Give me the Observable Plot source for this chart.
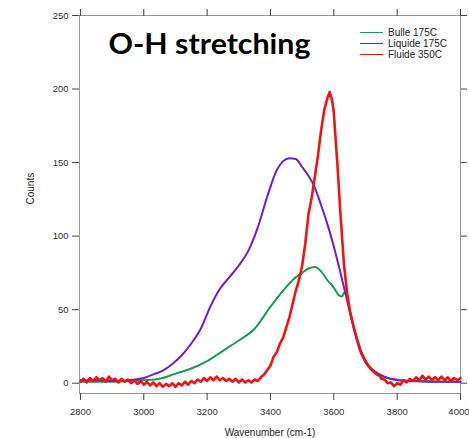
<!DOCTYPE html>
<html>
<head>
<meta charset="utf-8">
<script src="https://cdn.jsdelivr.net/npm/d3@7"></script>
<script src="https://cdn.jsdelivr.net/npm/@observablehq/plot@0.6"></script>
<style>
  body { margin: 0; background: #fff; }
  #wrap { position: relative; width: 469px; height: 438px; }
  #legend { position: absolute; left: 360px; top: 27px; font-family: "Liberation Sans", Arial, sans-serif; font-size: 10px; color: #222; }
  #legend .row { display: flex; align-items: center; height: 11.2px; }
  #legend .sw { width: 23px; height: 0; border-top: 1.5px solid; margin-right: 5px; }
</style>
</head>
<body>
<div id="wrap"></div>
<script>
const seriesNames = ["Bulle 175C", "Liquide 175C", "Fluide 350C"];
const seriesColors = ["#1e9a52", "#6e1fd2", "#ee1515"];
const xTicks = [2800, 3000, 3200, 3400, 3600, 3800, 4000];
const yTicks = [0, 50, 100, 150, 200, 250];
const titleText = "O-H stretching";
const xLabel = "Wavenumber (cm-1)";
const yLabel = "Counts";

// Bulle 175C (green)
const bulleX = [2800, 2900, 2950, 3000, 3050, 3100, 3150, 3200, 3250, 3300, 3350, 3400, 3440, 3480, 3500, 3520, 3540, 3560, 3580, 3600, 3615, 3625, 3635, 3645, 3655, 3670, 3690, 3710, 3740, 3780, 3850, 4000];
const bulleY = [1, 1, 1.5, 2, 3, 6.5, 10, 15, 22, 29, 37, 52, 63, 72, 75, 78, 79, 76, 70, 65, 60, 59, 62, 55, 45, 33, 20, 12, 6, 3, 1.5, 1];

// Liquide 175C (purple)
const liquideX = [2800, 2850, 2900, 2950, 3000, 3030, 3060, 3090, 3120, 3150, 3180, 3210, 3240, 3270, 3300, 3330, 3360, 3390, 3420, 3440, 3460, 3480, 3500, 3520, 3540, 3560, 3580, 3600, 3620, 3640, 3660, 3680, 3700, 3730, 3760, 3800, 3850, 3900, 3950, 4000];
const liquideY = [2, 2, 1.5, 2, 3.5, 6, 8.5, 13, 19, 27, 37, 52, 64, 72, 80, 90, 106, 127, 145, 151, 153, 152.5, 147, 141, 133, 121, 108, 93, 76, 58, 40, 24, 14, 8, 4.5, 2, 1.5, 1, 1, 1];

// Fluide 350C (red)
const fluideX = [2800, 2810, 2820, 2830, 2840, 2850, 2860, 2870, 2880, 2890, 2900, 2910, 2920, 2930, 2940, 2950, 2960, 2970, 2980, 2990,
  3000, 3010, 3020, 3030, 3040, 3050, 3060, 3070, 3080, 3090, 3100, 3110, 3120, 3130, 3140, 3150, 3160, 3170, 3180, 3190,
  3200, 3210, 3220, 3230, 3240, 3250, 3260, 3270, 3280, 3290, 3300, 3310, 3320, 3330, 3340, 3350, 3360, 3370, 3380, 3390,
  3400, 3410, 3420, 3430, 3440, 3450, 3460, 3470, 3480, 3490, 3500, 3510, 3520, 3530, 3540, 3550, 3560, 3570, 3580, 3587,
  3595, 3600, 3605, 3611, 3621, 3632, 3642, 3652, 3663, 3673, 3684, 3695, 3705, 3715, 3725, 3735, 3745, 3750, 3760, 3770,
  3780, 3790, 3800, 3810, 3820, 3830, 3840, 3850, 3860, 3870, 3880, 3890, 3900, 3910, 3920, 3930, 3940, 3950, 3960, 3970,
  3980, 3990, 4000];
const fluideY = [1, 3, 0.5, 3.5, 1.5, 4, 2, 3.5, 1, 4.5, 2, 3, 0.5, 3, 1, 2.5, 0, 2, -0.5, 1.5,
  -1, 1, -1.5, 0.5, -2, 0, -2.5, -0.5, -2, 0, -2.5, 0, -1.5, 1, -1, 1.5, 0, 2.5, 1, 3.5,
  1.5, 4, 2, 4.5, 2, 3.5, 1.5, 3, 1, 3, 0.5, 2.5, 0.5, 2, 0.5, 2.5, 1.5, 4, 6, 9,
  12, 18, 21, 27, 31, 38, 45, 54, 63, 70, 80, 95, 115, 126, 140, 155, 172, 186, 194, 198,
  192, 184, 168, 150, 115, 81, 61, 48, 38, 30, 22, 17, 13, 10, 8, 6, 5, 3, 2.5, 0,
  0.5, -2, 0, -1, 2, 0.5, 3, 1.5, 4, 2, 5, 2.5, 4.5, 2, 4, 2, 4.5, 2, 4, 1.5,
  3.5, 2, 3.5];

const rows = [];
bulleX.forEach((x, i) => rows.push({series: seriesNames[0], x, y: bulleY[i]}));
liquideX.forEach((x, i) => rows.push({series: seriesNames[1], x, y: liquideY[i]}));
fluideX.forEach((x, i) => rows.push({series: seriesNames[2], x, y: fluideY[i]}));

const lastTick = xTicks[xTicks.length - 1];
const tickText = {fill: "#333", fontSize: 9.5, letterSpacing: -0.4};

const chart = Plot.plot({
  width: 469,
  height: 438,
  marginLeft: 79,
  marginRight: 9,
  marginTop: 15,
  marginBottom: 45,
  style: {background: "#fff", fontFamily: "'Liberation Sans', Arial, sans-serif"},
  x: {domain: [2797, 4000]},
  y: {domain: [-7, 250]},
  color: {domain: seriesNames, range: seriesColors},
  marks: [
    Plot.frame({stroke: "#999"}),
    Plot.axisX({anchor: "bottom", ticks: xTicks, tickFormat: d => d === lastTick ? "" : String(d), tickSize: 7, tickPadding: 8, label: null, stroke: "#444", color: "#333", fontSize: 9.5, letterSpacing: -0.4}),
    Plot.text([lastTick], {x: d => d, frameAnchor: "bottom", dy: 15, dx: 9, lineAnchor: "top", textAnchor: "end", text: d => String(d), ...tickText}),
    Plot.axisX({anchor: "top", ticks: xTicks, tickSize: 7, tickFormat: () => "", label: null, stroke: "#444"}),
    Plot.axisY({anchor: "left", ticks: yTicks, tickFormat: "d", tickSize: 7, tickPadding: 4, label: null, stroke: "#444", color: "#333", fontSize: 9.5, letterSpacing: -0.4}),
    Plot.axisY({anchor: "right", ticks: yTicks, tickSize: 6, tickFormat: () => "", label: null, stroke: "#444"}),
    Plot.line(rows.filter(d => d.series === seriesNames[0]), {x: "x", y: "y", stroke: "series", strokeWidth: 2, curve: "monotone-x"}),
    Plot.line(rows.filter(d => d.series === seriesNames[1]), {x: "x", y: "y", stroke: "series", strokeWidth: 2, curve: "monotone-x"}),
    Plot.line(rows.filter(d => d.series === seriesNames[2]), {x: "x", y: "y", stroke: "series", strokeWidth: 2.6}),
    Plot.text([xLabel], {frameAnchor: "bottom", dy: 39, lineAnchor: "middle", fontSize: 10, fill: "#222"}),
    Plot.text([yLabel], {frameAnchor: "left", dx: -49, rotate: -90, fontSize: 10, fill: "#222"}),
    Plot.text([titleText], {frameAnchor: "top-left", dx: 29, dy: 30, textAnchor: "start", lineAnchor: "middle", fontSize: 28, fontWeight: "bold", fontFamily: "Lato", fill: "#000", className: "title-text"})
  ]
});

const wrap = document.getElementById("wrap");
wrap.appendChild(chart);

// stretch title to the reference's width
const t = chart.querySelector(".title-text text");
if (t) { t.setAttribute("textLength", "202"); t.setAttribute("lengthAdjust", "spacingAndGlyphs"); }

const legend = document.createElement("div");
legend.id = "legend";
seriesNames.forEach((name, i) => {
  const row = document.createElement("div");
  row.className = "row";
  const sw = document.createElement("span");
  sw.className = "sw";
  sw.style.borderTopColor = seriesColors[i];
  const label = document.createElement("span");
  label.textContent = name;
  row.appendChild(sw);
  row.appendChild(label);
  legend.appendChild(row);
});
wrap.appendChild(legend);
</script>
</body>
</html>
